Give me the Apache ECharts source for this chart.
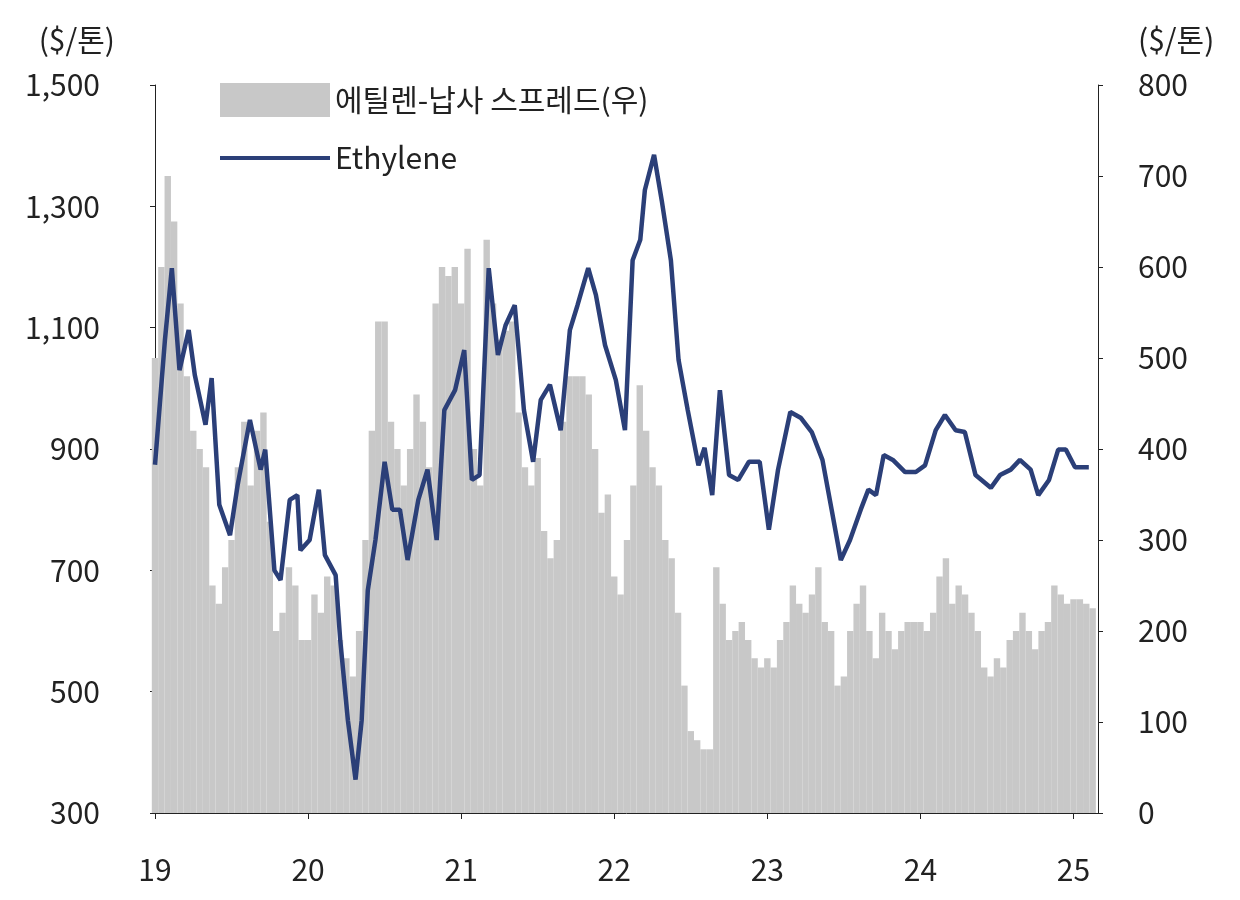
<!DOCTYPE html>
<html><head><meta charset="utf-8">
<script src="https://cdn.jsdelivr.net/npm/echarts@6/dist/echarts.min.js"></script>
<style>html,body{margin:0;background:#fff}#c{width:1240px;height:900px}</style>
</head><body><div id="c"></div>
<script>
// 에틸렌-납사 스프레드 (우축, $/톤), 반월 단위 2019.01 ~ 2025.02
var spreadVals = [
  500,600,700,650,560,480,420,400,380,250,230,270,300,380,430,360,420,440,320,200,220,270,250,190,
  190,240,220,260,250,190,170,150,200,300,420,540,540,430,400,360,400,460,430,380,560,600,590,600,
  560,620,400,360,630,560,520,530,540,440,380,360,390,310,280,300,430,480,480,480,460,400,330,350,
  260,240,300,360,470,420,380,360,300,280,220,140,90,80,70,70,270,230,190,200,210,190,170,160,
  170,160,190,210,250,230,220,240,270,210,200,140,150,200,230,250,200,170,220,200,180,200,210,210,
  210,200,220,260,280,230,250,240,220,200,160,150,170,160,190,200,220,200,180,200,210,250,240,230,
  235,235,230,225
];
// Ethylene 가격 (좌축, $/톤)
var ethYears = [2019.00,2019.065,2019.11,2019.16,2019.22,2019.26,2019.33,2019.37,2019.42,2019.49,2019.54,2019.62,2019.69,2019.72,2019.78,2019.82,2019.88,2019.93,2019.95,
  2020.01,2020.07,2020.11,2020.18,2020.21,2020.26,2020.31,2020.35,2020.39,2020.44,2020.50,2020.55,2020.60,2020.65,2020.72,2020.78,2020.84,2020.89,2020.96,
  2021.02,2021.07,2021.12,2021.18,2021.24,2021.29,2021.35,2021.41,2021.47,2021.52,2021.58,2021.65,2021.71,2021.76,2021.83,2021.88,2021.94,
  2022.01,2022.07,2022.12,2022.17,2022.20,2022.26,2022.31,2022.37,2022.42,2022.48,2022.55,2022.59,2022.64,2022.69,2022.75,2022.81,2022.88,2022.95,
  2023.01,2023.07,2023.15,2023.22,2023.29,2023.36,2023.42,2023.48,2023.54,2023.61,2023.66,2023.71,2023.76,2023.82,2023.90,2023.97,
  2024.03,2024.10,2024.16,2024.23,2024.29,2024.36,2024.46,2024.52,2024.59,2024.65,2024.72,2024.77,2024.84,2024.90,2024.95,2025.01,2025.10];
var ethVals = [874,1080,1198,1030,1096,1022,940,1017,808,758,841,948,866,899,700,684,816,824,733,
  750,833,725,692,585,453,355,453,667,750,879,800,800,717,816,866,750,964,997,
  1063,849,857,1198,1055,1104,1137,964,879,981,1006,931,1096,1137,1198,1154,1071,
  1014,931,1211,1245,1327,1385,1310,1211,1047,964,873,902,824,997,857,849,879,879,
  767,866,961,951,928,882,800,717,750,800,833,824,890,882,862,862,
  873,931,956,931,928,857,836,857,866,882,866,824,849,899,899,870,870];
var yearLabels = {2019:'19',2020:'20',2021:'21',2022:'22',2023:'23',2024:'24',2025:'25'};

var barData = spreadVals.map(function(v,i){ return [2019 + i/24, v]; });
var lineData = ethVals.map(function(v,i){ return [ethYears[i], v]; });

var font = 'Noto Sans CJK KR';
var lblStyle = {fontSize: 30, color: '#222', fontFamily: font};
var chart = echarts.init(document.getElementById('c'));
chart.setOption({
  animation: false,
  textStyle: {fontFamily: font},
  grid: {left: 155, right: 142, top: 85, bottom: 87},
  legend: [{
    left: 215, top: 78, itemWidth: 110, itemHeight: 34, icon: 'rect',
    textStyle: lblStyle, data: ['에틸렌-납사 스프레드(우)']
  }, {
    left: 215, top: 138, itemWidth: 110, itemHeight: 4, icon: 'rect',
    textStyle: lblStyle, data: ['Ethylene']
  }],
  xAxis: {
    type: 'value', min: 2019, max: 2025.16, interval: 1,
    splitLine: {show: false},
    axisLine: {lineStyle: {color: '#222'}},
    axisTick: {lineStyle: {color: '#222'}, length: 6},
    axisLabel: {fontSize: 30, color: '#222', margin: 42, formatter: function(v){ return yearLabels[Math.round(v)] || ''; }}
  },
  yAxis: [{
    type: 'value', min: 300, max: 1500, interval: 200,
    name: '($/톤)', nameGap: 30, nameTextStyle: {fontSize: 30, color: '#222', align: 'right', padding: [0, 40, 0, 0]},
    splitLine: {show: false},
    axisLine: {show: true, lineStyle: {color: '#222'}},
    axisTick: {show: true, lineStyle: {color: '#222'}},
    axisLabel: {fontSize: 30, color: '#222', margin: 55, formatter: function(v){ return v.toLocaleString('en-US'); }}
  }, {
    type: 'value', min: 0, max: 800, interval: 100, position: 'right',
    name: '($/톤)', nameGap: 30, nameTextStyle: {fontSize: 30, color: '#222', align: 'left', padding: [0, 0, 0, 40]},
    splitLine: {show: false},
    axisLine: {show: true, lineStyle: {color: '#222'}},
    axisTick: {show: true, lineStyle: {color: '#222'}},
    axisLabel: {fontSize: 30, color: '#222', margin: 40}
  }],
  series: [{
    name: '에틸렌-납사 스프레드(우)', type: 'bar', yAxisIndex: 1,
    data: barData, barWidth: 6.4, itemStyle: {color: '#c8c8c8'}
  }, {
    name: 'Ethylene', type: 'line', yAxisIndex: 0, data: lineData,
    showSymbol: false, lineStyle: {color: '#2b3f78', width: 4.5}, itemStyle: {color: '#2b3f78'}
  }]
});
</script></body></html>
